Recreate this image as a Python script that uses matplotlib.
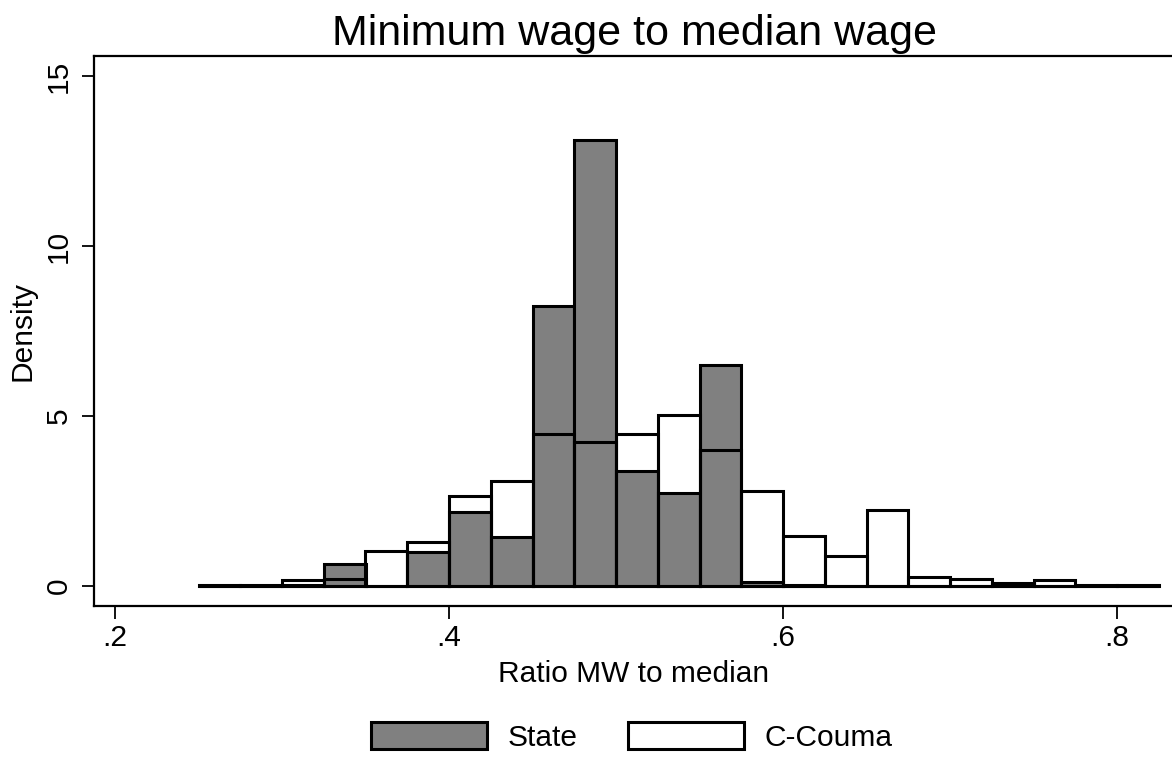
import matplotlib
matplotlib.use("Agg")
import matplotlib.pyplot as plt
from matplotlib.patches import Patch

plt.rcParams['font.family'] = ['Liberation Sans', 'DejaVu Sans']

bin_edges = [0.25, 0.275, 0.30, 0.325, 0.35, 0.375, 0.40, 0.425, 0.45, 0.475,
             0.50, 0.525, 0.55, 0.575, 0.60, 0.625, 0.65, 0.675, 0.70, 0.725,
             0.75, 0.775, 0.80, 0.825]
state = [0.0, 0.02, 0.04, 0.65, 0.0, 1.0, 2.18, 1.44, 8.24, 13.12,
         3.38, 2.74, 6.5, 0.13, 0.03, 0.0, 0.0, 0.0, 0.0, 0.06,
         0.0, 0.0, 0.02]
couma = [0.03, 0.0, 0.18, 0.22, 1.02, 1.3, 2.65, 3.1, 4.47, 4.24,
         4.47, 5.03, 4.0, 2.78, 1.47, 0.88, 2.25, 0.26, 0.2, 0.08,
         0.18, 0.02, 0.0]
xticks = [0.2, 0.4, 0.6, 0.8]
xticklabels = ['.2', '.4', '.6', '.8']
yticks = [0, 5, 10, 15]
series_labels = ['State', 'C-Couma']
title = 'Minimum wage to median wage'
xlabel = 'Ratio MW to median'
ylabel = 'Density'

W, H = 1172, 757
fig = plt.figure(figsize=(W / 100, H / 100), dpi=100)
ax = fig.add_axes([94 / W, 1 - 606 / H, (W - 94 + 2) / W, (606 - 56) / H])

lefts = bin_edges[:-1]
widths = [b - a for a, b in zip(bin_edges[:-1], bin_edges[1:])]
gray = '#808080'
ax.bar(lefts, state, width=widths, align='edge', color=gray,
       edgecolor='black', linewidth=2.2, zorder=2)
ax.bar(lefts, couma, width=widths, align='edge', facecolor='none',
       edgecolor='black', linewidth=2.2, zorder=3)

ax.set_xlim(0.2 + (94 - 115) / 1670, 0.2 + (W + 2 - 115) / 1670)
ax.set_ylim(-(606 - 586) / 34, (586 - 56) / 34)

ax.set_xticks(xticks)
ax.set_xticklabels(xticklabels)
ax.set_yticks(yticks)
ax.set_yticklabels([str(v) for v in yticks], rotation=90, va='center')
ax.tick_params(axis='both', direction='out', length=9, width=1.3,
               labelsize=21.5, colors='black')
ax.tick_params(axis='x', pad=4)
ax.tick_params(axis='y', pad=6)

for s in ['left', 'bottom', 'top']:
    ax.spines[s].set_linewidth(1.6)
ax.spines['right'].set_visible(False)

ax.set_title(title, fontsize=31, pad=8)
ax.set_xlabel(xlabel, fontsize=21.5, labelpad=6)
ax.set_ylabel(ylabel, fontsize=21.5, labelpad=6)

handles = [Patch(facecolor=gray, edgecolor='black', linewidth=2.2),
           Patch(facecolor='white', edgecolor='black', linewidth=2.2)]
fig.legend(handles, series_labels, loc='center', ncol=2,
           bbox_to_anchor=(632 / W, 1 - 737 / H), frameon=False,
           fontsize=21.5, handlelength=3.88, handleheight=1.0,
           handletextpad=0.7, columnspacing=1.67, borderpad=0)

fig.savefig('out.png', dpi=100, facecolor='white')
